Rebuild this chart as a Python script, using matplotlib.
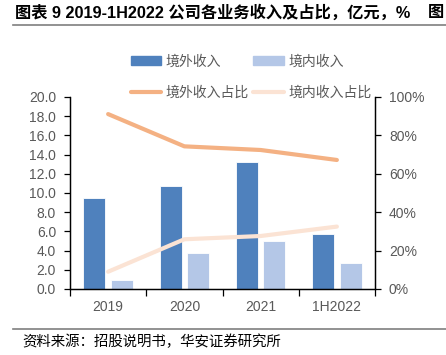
import matplotlib.pyplot as plt
import numpy as np
from matplotlib.lines import Line2D
from matplotlib.patches import Patch

plt.rcParams['font.family'] = ['Liberation Sans', 'Noto Sans CJK SC']

years = ['2019', '2020', '2021', '1H2022']
overseas = [9.45, 10.7, 13.2, 5.7]      # 境外收入, 亿元
domestic = [0.9, 3.7, 5.0, 2.7]         # 境内收入, 亿元
overseas_pct = [91.1, 74.3, 72.4, 67.2]  # 境外收入占比, %
domestic_pct = [9.0, 25.9, 27.6, 32.5]   # 境内收入占比, %

c_dark = '#4F81BD'
c_light = '#B4C7E7'
c_orange = '#F4B183'
c_pale = '#FBE3D4'
grey = '#595959'

fig = plt.figure(figsize=(4.46, 3.55), dpi=100)
ax = fig.add_axes([70/446, 1-289/355, 305/446, 192/355])
ax2 = ax.twinx()

x = np.arange(len(years))
w = 0.29
ax.bar(x - 0.18, overseas, w, color=c_dark, edgecolor='white', linewidth=0.6, zorder=2)
ax.bar(x + 0.18, domestic, w, color=c_light, edgecolor='white', linewidth=0.6, zorder=2)
ax2.plot(x, overseas_pct, color=c_orange, lw=3, solid_capstyle='round')
ax2.plot(x, domestic_pct, color=c_pale, lw=3, solid_capstyle='round')

ax.set_xlim(-0.5, 3.5)
ax.set_ylim(0, 20)
ax2.set_ylim(0, 100)
ax.set_yticks(np.arange(0, 21, 2))
ax.set_yticklabels([f'{v:.1f}' for v in np.arange(0, 21, 2)])
ax2.set_yticks(np.arange(0, 101, 20))
ax2.set_yticklabels([f'{v}%' for v in range(0, 101, 20)])
ax.set_xticks(x)
ax.set_xticklabels(years)
ax.set_xticks(np.arange(-0.5, 4, 1), minor=True)
ax.tick_params(axis='x', which='major', length=0, pad=8, labelsize=10, labelcolor=grey)
ax.tick_params(axis='x', which='minor', length=5, width=0.9, direction='out')
ax.tick_params(axis='y', length=4, width=0.9, labelsize=10, labelcolor=grey, pad=6)
ax2.tick_params(axis='y', length=4, width=0.9, labelsize=10, labelcolor=grey, pad=6)

for a in (ax, ax2):
    a.spines['top'].set_visible(False)
    for s in ('left', 'right', 'bottom'):
        a.spines[s].set_linewidth(0.9)
        a.spines[s].set_color('black')
ax.set_zorder(ax2.get_zorder() - 1)
ax.patch.set_visible(False)
ax2.patch.set_visible(False)

# column-major order so rows read: bars, then lines
handles = [Patch(color=c_dark),
           Line2D([], [], color=c_orange, lw=3, solid_capstyle='round'),
           Patch(color=c_light),
           Line2D([], [], color=c_pale, lw=3, solid_capstyle='round')]
labels = ['境外收入', '境外收入占比', '境内收入', '境内收入占比']
fig.legend(handles, labels, ncol=2, loc='upper left', bbox_to_anchor=(118/446, 1-42/355),
           frameon=False, handlelength=2.2, handleheight=0.6,
           columnspacing=0.3, labelspacing=1.25, handletextpad=0.35,
           prop={'family': ['Noto Sans CJK SC'], 'size': 10}, labelcolor=grey)

fig.text(15/446, 1-13/355, '图表 9 2019-1H2022 公司各业务收入及占比，亿元，%', fontsize=11.7,
         fontweight='bold', va='center', ha='left', color='black')
fig.text(428/446, 1-13/355, '图', fontsize=11.7, fontweight='bold', va='center', ha='left')
fig.add_artist(Line2D([13/446, 1], [1-25/355, 1-25/355], color='#7f7f7f', lw=1.2))
fig.add_artist(Line2D([13/446, 1], [1-329/355, 1-329/355], color='#7f7f7f', lw=1.2))
fig.text(22/446, 1-342/355, '资料来源：招股说明书，华安证券研究所', fontsize=10.4,
         va='center', ha='left', color='black', family=['Noto Sans CJK SC'])

fig.savefig('out.png', dpi=100)
